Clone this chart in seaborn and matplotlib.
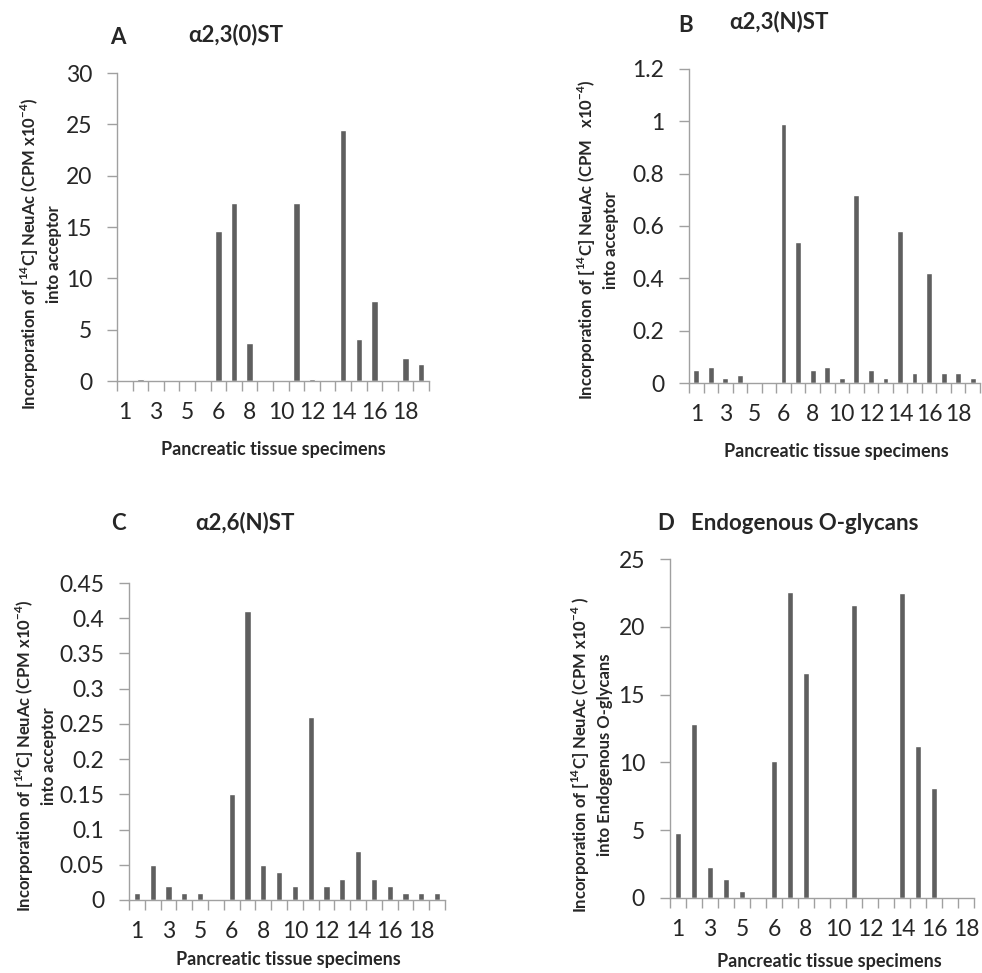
import seaborn as sns
import numpy as np
import matplotlib
matplotlib.use("Agg")
import matplotlib.pyplot as plt

# specimen categories (the 6th slot has no visible label)
specimens = ["1", "2", "3", "4", "5", " ", "6", "7", "8", "9", "10",
             "11", "12", "13", "14", "15", "16", "17", "18", "19"]
specimens_d = specimens[:19]

st23_O = [0, 0.23, 0, 0, 0, 0, 14.6, 17.3, 3.7, 0, 0, 17.3, 0.15, 0, 24.4, 4.1, 7.8, 0, 2.2, 1.7]
st23_N = [0.05, 0.06, 0.02, 0.03, 0, 0, 0.99, 0.54, 0.05, 0.06, 0.02, 0.72, 0.05, 0.02, 0.58,
          0.04, 0.42, 0.04, 0.04, 0.02]
st26_N = [0.01, 0.05, 0.02, 0.01, 0.01, 0, 0.15, 0.41, 0.05, 0.04, 0.02, 0.26, 0.02, 0.03, 0.07,
          0.03, 0.02, 0.01, 0.01, 0.01]
endo_O = [4.8, 12.8, 2.3, 1.4, 0.5, 0, 10.1, 22.6, 16.6, 0, 0, 21.6, 0, 0, 22.5, 11.2, 8.1, 0, 0]

sns.set_style("ticks")
plt.rcParams['font.family'] = ['Lato', 'DejaVu Sans']
plt.rcParams['mathtext.fontset'] = 'custom'
plt.rcParams['mathtext.rm'] = 'Lato'
plt.rcParams['mathtext.bf'] = 'Lato:bold'

W, H = 982, 973
fig = plt.figure(figsize=(W / 100, H / 100), dpi=100)

bar_color = "#5f5f5f"
axis_color = "#a0a0a0"

lab1 = r"Incorporation of [$^{\mathbf{14}}$C] NeuAc (CPM x10$^{\mathbf{-4}}$)"
lab1b = r"Incorporation of [$^{\mathbf{14}}$C] NeuAc (CPM   x10$^{\mathbf{-4}}$)"
lab1d = r"Incorporation of [$^{\mathbf{14}}$C] NeuAc (CPM x10$^{\mathbf{-4}}$ )"

panels = [
    # letter, title, cats, values, ymax, ystep, box(l,t,r,b), letter xy, title xy, ylabel, ylabel xy, xlabel xy, title ha
    ("A", "α2,3(0)ST", specimens, st23_O, 30, 5, (117, 73, 429, 381), (118, 37), (236, 35),
     lab1 + "\ninto acceptor", (40, 254), (273, 450), "center"),
    ("B", "α2,3(N)ST", specimens, st23_N, 1.2, 0.2, (689, 69, 980, 383), (686, 25), (779, 22),
     lab1b + "\ninto acceptor", (597, 240), (836, 452), "center"),
    ("C", "α2,6(N)ST", specimens, st26_N, 0.45, 0.05, (129, 583, 445, 900), (118, 523), (245, 523),
     lab1 + "\ninto acceptor", (35, 756), (288, 960), "center"),
    ("D", "Endogenous O-glycans", specimens_d, endo_O, 25, 5, (670, 559, 974, 898), (666, 523), (691, 523),
     lab1d + "\ninto Endogenous O-glycans", (591, 755), (829, 962), "left"),
]

for (letter, title, cats, vals, ymax, ystep, box, lxy, txy, ylab, yxy, xxy, tha) in panels:
    l, t, r, b = box
    ax = fig.add_axes([l / W, 1 - b / H, (r - l) / W, (b - t) / H])
    sns.barplot(x=cats, y=vals, order=cats, color=bar_color, saturation=1,
                width=0.4, ax=ax)
    n = len(cats)
    ax.set_xlim(-0.5, n - 0.5)
    ax.set_ylim(0, ymax)
    yt = np.round(np.arange(0, ymax + ystep / 2, ystep), 3)
    ax.set_yticks(yt)
    ax.set_yticklabels([f"{v:g}" for v in yt])
    ax.set_xticks(range(0, n, 2))
    ax.set_xticklabels(cats[0::2])
    ax.set_xticks(np.arange(-0.5, n, 1), minor=True)
    ax.tick_params(axis='x', which='major', length=0, pad=15, labelsize=16.5)
    ax.tick_params(axis='x', which='minor', length=7, width=1, color=axis_color, direction='out')
    ax.tick_params(axis='y', length=7, width=1, color=axis_color, pad=11, labelsize=16.5)
    ax.set_xlabel("")
    ax.set_ylabel("")
    for s in ["top", "right"]:
        ax.spines[s].set_visible(False)
    for s in ["left", "bottom"]:
        ax.spines[s].set_color(axis_color)
        ax.spines[s].set_linewidth(1)

    fig.text(lxy[0] / W, 1 - lxy[1] / H, letter, fontsize=16, fontweight='bold',
             ha='center', va='center')
    fig.text(txy[0] / W, 1 - txy[1] / H, title, fontsize=16, fontweight='bold',
             ha=tha, va='center')
    fig.text(yxy[0] / W, 1 - yxy[1] / H, ylab, fontsize=12, fontweight='bold',
             rotation=90, ha='center', va='center', multialignment='center', linespacing=1.4)
    fig.text(xxy[0] / W, 1 - xxy[1] / H, "Pancreatic tissue specimens", fontsize=13,
             fontweight='bold', ha='center', va='center')

fig.savefig("out.png", dpi=100)
